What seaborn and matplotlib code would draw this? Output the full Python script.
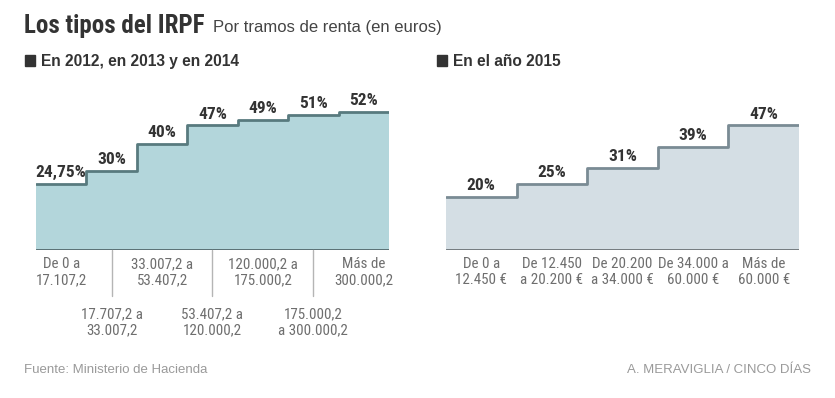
import numpy as np
import pandas as pd
import seaborn as sns
import matplotlib.pyplot as plt
from matplotlib.patches import Rectangle

# --- data ---
rates_old = [24.75, 30, 40, 47, 49, 51, 52]
labels_old = ["24,75%", "30%", "40%", "47%", "49%", "51%", "52%"]
brackets_old = ["De 0 a\n17.107,2", "17.707,2 a\n33.007,2", "33.007,2 a\n53.407,2",
                "53.407,2 a\n120.000,2", "120.000,2 a\n175.000,2", "175.000,2\na 300.000,2",
                "Más de\n300.000,2"]

rates_new = [20, 25, 31, 39, 47]
labels_new = ["20%", "25%", "31%", "39%", "47%"]
brackets_new = ["De 0 a\n12.450 €", "De 12.450\na 20.200 €", "De 20.200\na 34.000 €",
                "De 34.000 a\n60.000 €", "Más de\n60.000 €"]

sns.set_style("white")
plt.rcParams["font.family"] = ["Liberation Sans", "DejaVu Sans"]
COND = ["Roboto Condensed", "Liberation Sans", "DejaVu Sans"]

W, H = 835, 398
fig = plt.figure(figsize=(W / 100, H / 100), dpi=100)


def add_ax(x0, x1, y_base, y_top):
    # pixel box -> figure fractions
    return fig.add_axes([x0 / W, (H - y_base) / H, (x1 - x0) / W, (y_base - y_top) / H])


def fy(y):
    return 1 - y / H


def draw_steps(ax, rates, labels, fill, edge, base):
    n = len(rates)
    df = pd.DataFrame({"x": np.arange(n + 1), "y": rates + [rates[-1]]})
    ax.fill_between(df["x"], 0, df["y"], step="post", color=fill, lw=0)
    sns.lineplot(data=df, x="x", y="y", ax=ax, drawstyle="steps-post",
                 color=edge, lw=2.0, estimator=None)
    ax.axhline(0, color=base, lw=2.0)
    for i, (r, lab) in enumerate(zip(rates, labels)):
        ax.annotate(lab, (i + 0.5, r), xytext=(0, 5), textcoords="offset points",
                    ha="center", va="baseline", fontsize=12.5, fontweight="bold",
                    color="#333333", family=COND, annotation_clip=False)
    ax.set_xlim(0, n)
    ax.set_ylim(0, 60)
    ax.set_xticks([])
    ax.set_yticks([])
    ax.set_xlabel("")
    ax.set_ylabel("")
    sns.despine(ax=ax, left=True, bottom=True)
    ax.patch.set_alpha(0)


TICK = dict(ha="center", va="top", fontsize=10.8, color="#6e6e6e", family=COND,
            linespacing=1.2, annotation_clip=False, textcoords="offset points")

# left chart (2012-2014)
ax1 = add_ax(36, 389, 250, 91)
draw_steps(ax1, rates_old, labels_old, "#b3d6db", "#587a7e", "#52676b")
for i, lab in enumerate(brackets_old):
    if i % 2 == 0:
        ax1.annotate(lab, (i + 0.5, 0), xytext=(0, -5), **TICK)
    else:
        ax1.annotate(lab, (i + 0.5, 0), xytext=(0, -41), **TICK)
        ax1.plot([i + 0.5, i + 0.5], [0, -17.5], color="#b5b5b5", lw=1, clip_on=False)

# right chart (2015)
ax2 = add_ax(446, 799, 250, 91)
draw_steps(ax2, rates_new, labels_new, "#d4dee4", "#7a8b94", "#6b7276")
for i, lab in enumerate(brackets_new):
    ax2.annotate(lab, (i + 0.5, 0), xytext=(0, -5), **TICK)

# titles and headers
fig.text(24 / W, fy(33), "Los tipos del IRPF", fontsize=18, fontweight="bold",
         family=COND, color="#333333", va="baseline", ha="left")
fig.text(213 / W, fy(32), "Por tramos de renta (en euros)", fontsize=12,
         color="#444444", va="baseline", ha="left")

for sx, tx, txt in [(25, 41, "En 2012, en 2013 y en 2014"), (437, 453, "En el año 2015")]:
    fig.patches.append(Rectangle((sx / W, fy(66)), 10 / W, 11 / H, color="#333333",
                                 transform=fig.transFigure, figure=fig))
    fig.text(tx / W, fy(66), txt, fontsize=11.2, fontweight="bold",
             color="#333333", va="baseline", ha="left")

# footer
fig.text(24 / W, fy(370), "Fuente: Ministerio de Hacienda", fontsize=9.5,
         color="#9a9a9a", va="center", ha="left")
fig.text(811 / W, fy(370), "A. MERAVIGLIA / CINCO DÍAS", fontsize=9.5,
         color="#9a9a9a", va="center", ha="right")

fig.savefig("out.png", dpi=100)
